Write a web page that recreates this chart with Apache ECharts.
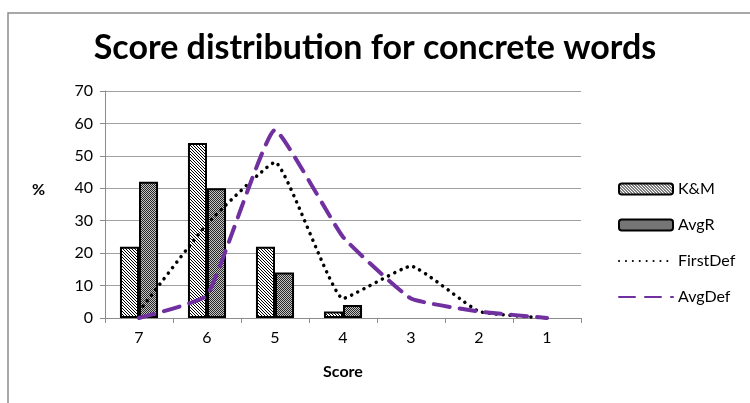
<!DOCTYPE html>
<html>
<head>
<meta charset="utf-8">
<script src="https://cdn.jsdelivr.net/npm/echarts@6/dist/echarts.min.js"></script>
</head>
<body style="margin:0;background:#fff">
<div id="chart" style="width:750px;height:403px"></div>
<script>
// Score categories, highest score first
const categories = ['7', '6', '5', '4', '3', '2', '1'];
const yTicks = [0, 10, 20, 30, 40, 50, 60, 70];

// Percentages per score (empty cells have no bar)
const kmValues = [22, 54, 22, 2, null, null, null];
const avgRValues = [42, 40, 14, 4, null, null, null];
const firstDefValues = [2, 29, 48, 6, 16, 2, 0];
const avgDefValues = [0, 7, 58, 25, 6, 2, 0];

const FONT = 'Lato, "Open Sans", sans-serif';

// Diagonal hatch fill for K&M bars
function hatchFill() {
  const c = document.createElement('canvas');
  c.width = 3; c.height = 3;
  const g = c.getContext('2d');
  g.fillStyle = '#fff';
  g.fillRect(0, 0, 3, 3);
  g.fillStyle = '#000';
  for (let i = 0; i < 3; i++) g.fillRect(i, i, 1, 1);
  return { image: c, repeat: 'repeat' };
}

// Fine checker fill for AvgR bars
function checkerFill() {
  const c = document.createElement('canvas');
  c.width = 2; c.height = 2;
  const g = c.getContext('2d');
  g.fillStyle = '#c4c4c4';
  g.fillRect(0, 0, 2, 2);
  g.fillStyle = '#262626';
  g.fillRect(0, 0, 1, 1);
  g.fillRect(1, 1, 1, 1);
  return { image: c, repeat: 'repeat' };
}

const chart = echarts.init(document.getElementById('chart'), null, { renderer: 'canvas' });

chart.setOption({
  animation: false,
  backgroundColor: '#fff',
  title: {
    text: 'Score distribution for concrete words',
    left: 'center',
    top: 26,
    textStyle: { fontFamily: FONT, fontWeight: 'bold', fontSize: 34, color: '#000' }
  },
  graphic: [
    {
      type: 'rect',
      shape: { x: 8, y: 13, width: 800, height: 500 },
      style: { fill: 'none', stroke: '#8c8c8c', lineWidth: 1.5 },
      silent: true
    },
    {
      type: 'text',
      left: 32,
      top: 182,
      style: { text: '%', fill: '#000', font: 'bold 16px ' + FONT }
    }
  ],
  legend: {
    orient: 'vertical',
    left: 613,
    top: 176,
    itemWidth: 54,
    itemHeight: 11,
    itemGap: 20,
    textStyle: { fontFamily: FONT, fontSize: 16, color: '#000' },
    data: [
      { name: 'K&M' },
      { name: 'AvgR' },
      { name: 'FirstDef', itemStyle: { opacity: 0 } },
      { name: 'AvgDef', itemStyle: { opacity: 0 } }
    ]
  },
  grid: { left: 105, right: 169, top: 91, bottom: 85, containLabel: false },
  xAxis: {
    type: 'category',
    data: categories,
    name: 'Score',
    nameLocation: 'middle',
    nameGap: 46,
    nameTextStyle: { fontFamily: FONT, fontWeight: 'bold', fontSize: 16, color: '#000' },
    axisLine: { lineStyle: { color: '#8c8c8c', width: 1 } },
    axisTick: { show: true, length: 5, lineStyle: { color: '#8c8c8c' } },
    axisLabel: { fontFamily: FONT, fontSize: 16, color: '#000', margin: 12 }
  },
  yAxis: {
    type: 'value',
    min: yTicks[0],
    max: yTicks[yTicks.length - 1],
    interval: 10,
    axisLine: { show: true, lineStyle: { color: '#8c8c8c', width: 1 } },
    axisTick: { show: true, length: 5, lineStyle: { color: '#8c8c8c' } },
    axisLabel: { fontFamily: FONT, fontSize: 16, color: '#000', margin: 12 },
    splitLine: { lineStyle: { color: '#a0a0a0', width: 1 } }
  },
  series: [
    {
      name: 'K&M',
      type: 'bar',
      data: kmValues,
      barGap: '0%',
      barCategoryGap: '44%',
      itemStyle: { color: hatchFill(), borderColor: '#000', borderWidth: 2 }
    },
    {
      name: 'AvgR',
      type: 'bar',
      data: avgRValues,
      itemStyle: { color: checkerFill(), borderColor: '#000', borderWidth: 2 }
    },
    {
      name: 'FirstDef',
      type: 'line',
      data: firstDefValues,
      smooth: 0.12,
      symbol: 'none',
      itemStyle: { color: '#000' },
      lineStyle: { color: '#000', width: 3.5, type: [0.1, 6.8], cap: 'round' }
    },
    {
      name: 'AvgDef',
      type: 'line',
      data: avgDefValues,
      smooth: 0.12,
      symbol: 'none',
      itemStyle: { color: '#7030a0' },
      lineStyle: { color: '#7030a0', width: 4, type: [16, 10], cap: 'round' }
    }
  ]
});
</script>
</body>
</html>
